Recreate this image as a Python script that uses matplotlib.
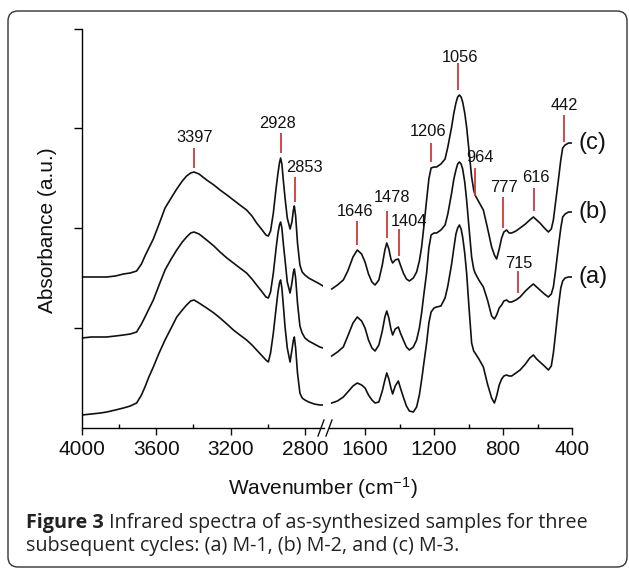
import matplotlib.pyplot as plt
from matplotlib.patches import FancyBboxPatch
from matplotlib.lines import Line2D
from matplotlib.ticker import FixedLocator, NullFormatter

plt.rcParams['font.family'] = ['Liberation Sans', 'DejaVu Sans']
plt.rcParams['mathtext.fontset'] = 'custom'
plt.rcParams['mathtext.rm'] = 'Liberation Sans'
plt.rcParams['mathtext.it'] = 'Liberation Sans:italic'

# ---- spectra (absorbance in arbitrary units, stacked) ----
wn_left = [4000, 3950, 3900, 3867, 3820, 3777, 3740, 3706, 3680, 3661, 3640, 3616, 3585, 3553,
           3520, 3490, 3460, 3437, 3415, 3397, 3370, 3329, 3290, 3257, 3220, 3185, 3150, 3114,
           3085, 3060, 3030, 3010, 2997, 2985, 2970, 2955, 2945, 2937, 2931, 2924, 2915, 2907,
           2895, 2880, 2870, 2862, 2857, 2850, 2840, 2827, 2815, 2800, 2780, 2750, 2720, 2703]
a_left = [13, 14, 15, 16, 18, 20, 22, 25, 33, 41, 51, 61, 75, 88,
          100, 111, 118, 123, 127, 128, 125, 120, 115, 110, 104, 98, 93, 88,
          83, 78, 72, 68, 66, 75, 95, 120, 136, 145, 148, 140, 120, 101,
          80, 66, 78, 88, 91, 80, 55, 35, 30, 28, 26, 24, 23, 23]
b_left = [90, 91, 91, 91, 92, 93, 94, 96, 104, 111, 119, 128, 143, 158,
          169, 178, 186, 191, 195, 196, 194, 188, 182, 176, 170, 165, 160, 155,
          149, 143, 136, 131, 130, 136, 155, 180, 195, 203, 206, 200, 182, 168,
          146, 135, 145, 156, 159, 150, 125, 102, 95, 90, 87, 84, 81, 80]
c_left = [151, 151, 151, 151, 152, 154, 155, 157, 164, 172, 180, 189, 204, 220,
          230, 239, 247, 252, 255, 256, 254, 248, 243, 238, 233, 228, 223, 218,
          212, 205, 198, 193, 192, 197, 215, 240, 255, 265, 270, 264, 245, 230,
          210, 199, 206, 218, 222, 212, 185, 163, 156, 153, 150, 147, 144, 142]

wn_right = [1793, 1760, 1726, 1700, 1670, 1645, 1620, 1600, 1580, 1560, 1542, 1520, 1500, 1485,
            1474, 1462, 1450, 1440, 1425, 1407, 1395, 1378, 1360, 1343, 1320, 1301, 1285, 1272,
            1258, 1243, 1230, 1217, 1200, 1185, 1160, 1136, 1120, 1098, 1085, 1073, 1063, 1053,
            1043, 1034, 1022, 1011, 997, 982, 970, 962, 940, 914, 890, 866, 850, 837,
            822, 808, 795, 779, 765, 750, 725, 701, 670, 645, 624, 605, 586, 560,
            537, 520, 508, 495, 479, 465, 454, 440, 420, 402]
a_right = [25, 27, 31, 36, 42, 45, 43, 40, 33, 28, 25, 26, 37, 48,
           55, 49, 40, 34, 42, 47, 40, 31, 22, 17, 16, 21, 33, 48,
           66, 85, 105, 116, 120, 121, 122, 130, 142, 164, 180, 194, 200, 203,
           199, 191, 175, 155, 120, 85, 77, 75, 69, 61, 44, 30, 25, 32,
           43, 49, 52, 53, 52, 52, 55, 58, 64, 70, 73, 69, 66, 62,
           58, 62, 75, 95, 121, 140, 147, 150, 151, 151]
b_right = [72, 76, 81, 92, 105, 111, 107, 100, 88, 80, 77, 83, 97, 111,
           117, 110, 99, 93, 99, 101, 95, 88, 81, 78, 81, 88, 100, 115,
           135, 155, 180, 193, 195, 195, 198, 203, 214, 235, 249, 258, 264, 266,
           264, 259, 246, 228, 200, 171, 159, 155, 148, 141, 128, 112, 109, 113,
           120, 123, 127, 128, 126, 126, 128, 131, 137, 141, 144, 141, 138, 134,
           131, 134, 141, 158, 181, 200, 211, 214, 216, 216]
c_right = [139, 143, 148, 157, 171, 178, 174, 166, 154, 146, 143, 148, 163, 178,
           185, 179, 169, 165, 168, 169, 163, 155, 149, 147, 150, 156, 167, 181,
           203, 228, 249, 260, 261, 261, 264, 269, 281, 301, 315, 325, 331, 333,
           331, 326, 315, 301, 277, 251, 238, 233, 226, 218, 200, 181, 173, 169,
           179, 190, 196, 198, 195, 195, 197, 200, 204, 208, 211, 208, 205, 200,
           196, 199, 208, 226, 248, 268, 280, 283, 285, 285]

curve_names = ['(a)', '(b)', '(c)']

# peak marks: label, mark position, mark bottom/top, label position
peaks = [('3397', 3397, 260, 280, 3392, 291),
         ('2928', 2929, 275, 295, 2945, 305),
         ('2853', 2854, 226, 251, 2805, 261),
         ('1646', 1646, 183, 207, 1658, 217),
         ('1478', 1472, 190, 217, 1443, 230),
         ('1404', 1403, 172, 199, 1345, 207),
         ('1206', 1217, 266, 285, 1235, 296),
         ('1056', 1061, 338, 365, 1049, 371),
         ('964', 962, 232, 260, 933, 271),
         ('777', 800, 200, 231, 794, 240),
         ('616', 620, 217, 240, 609, 251),
         ('715', 713, 135, 157, 707, 165),
         ('442', 446, 286, 313, 446, 323)]

W, H = 629, 569
fig = plt.figure(figsize=(W / 100, H / 100), dpi=100)

y_bot, y_top = 428, 29
axl = fig.add_axes([82 / W, (H - y_bot) / H, (323.5 - 82) / W, (y_bot - y_top) / H])
axr = fig.add_axes([329 / W, (H - y_bot) / H, (572 - 329) / W, (y_bot - y_top) / H])

for ax, xlim, maj, mnr in [(axl, (4000, 2700), [4000, 3600, 3200, 2800], [3800, 3400, 3000]),
                           (axr, (1809, 400), [1600, 1200, 800, 400], [1400, 1000, 600])]:
    ax.set_xlim(*xlim)
    ax.set_ylim(0, 399)
    ax.patch.set_visible(False)
    for s in ['top', 'right']:
        ax.spines[s].set_visible(False)
    ax.spines['bottom'].set_linewidth(1.0)
    ax.spines['left'].set_linewidth(1.0)
    ax.xaxis.set_major_locator(FixedLocator(maj))
    ax.xaxis.set_minor_locator(FixedLocator(mnr))
    ax.tick_params(axis='x', which='major', direction='out', length=5, width=1.0,
                   labelsize=15, pad=3.5, colors='#111111')
    ax.tick_params(axis='x', which='minor', direction='in', length=3, width=1.0)

axr.spines['left'].set_visible(False)
axr.set_yticks([])
axl.yaxis.set_major_locator(FixedLocator([100, 200, 300, 399]))
axl.yaxis.set_major_formatter(NullFormatter())
axl.tick_params(axis='y', direction='out', length=6, width=1.0)

axl.set_ylabel('Absorbance (a.u.)', fontsize=15, color='#111111')
axl.yaxis.set_label_coords(-0.103, 0.496)

lc = '#111111'
for y in [a_left, b_left, c_left]:
    axl.plot(wn_left, y, color=lc, lw=1.2, solid_joinstyle='round')
for y in [a_right, b_right, c_right]:
    axr.plot(wn_right, y, color=lc, lw=1.2, solid_joinstyle='round')

# curve labels just right of the last point
for name, y in zip(curve_names, [a_right[-1], b_right[-1], c_right[-1]]):
    axr.text(365, y, name, fontsize=17, ha='left', va='center', clip_on=False, color='#111111')

red = '#cc3b3b'
for txt, xm, y0, y1, xt, yt in peaks:
    ax = axl if xm > 2000 else axr
    ax.plot([xm, xm], [y0, y1], color=red, lw=1.3, solid_capstyle='butt')
    ax.text(xt, yt, txt, fontsize=11.8, ha='center', va='center', color='#111111', clip_on=False)

# axis break marks
for x0 in [318, 326]:
    fig.add_artist(Line2D([x0 / 100, (x0 + 6) / 100], [(H - 436) / 100, (H - 420) / 100],
                          transform=fig.dpi_scale_trans, color='#111111', lw=1.0))

fig.text(323 / W, 1 - 488 / H, 'Wavenumber (cm$^{-1}$)', fontsize=15, ha='center', va='center',
         color='#111111')

# caption and rounded frame
frame = FancyBboxPatch((0.08, 0.02), 6.19, 5.56, boxstyle='round,pad=0,rounding_size=0.1',
                       transform=fig.dpi_scale_trans, fill=False, ec='#333333', lw=1.0)
fig.add_artist(frame)

cap_kw = dict(fontsize=14.2, family='Open Sans', color='#222222')
t1 = fig.text(26 / W, 1 - 523 / H, 'Figure 3', weight='bold', va='center', **cap_kw)
axl.annotate(' Infrared spectra of as-synthesized samples for three', xy=(1, 0), xycoords=t1,
             va='bottom', ha='left', annotation_clip=False, **cap_kw)
fig.text(26 / W, 1 - 546 / H, 'subsequent cycles: (a) M-1, (b) M-2, and (c) M-3.', va='center',
         **cap_kw)

plt.savefig('out.png', dpi=100)
